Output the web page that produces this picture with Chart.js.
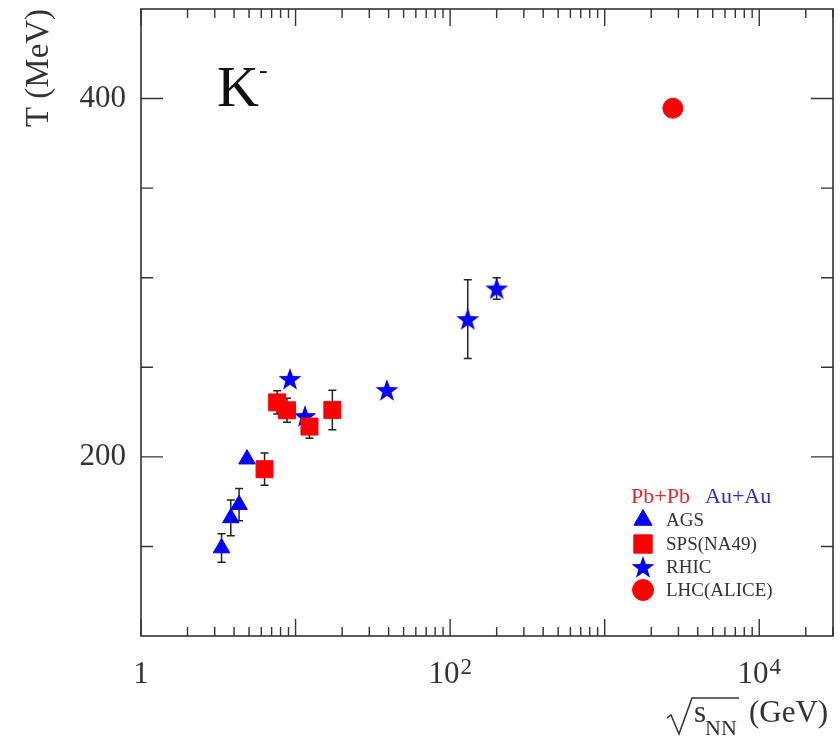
<!DOCTYPE html>
<html>
<head>
<meta charset="utf-8">
<script src="https://cdn.jsdelivr.net/npm/chart.js@4.4.0/dist/chart.umd.min.js"></script>
<style>
  html, body { margin: 0; padding: 0; background: #fff; }
  #wrap { width: 840px; height: 736px; position: relative; }
</style>
</head>
<body>
<div id="wrap"><canvas id="chart"></canvas></div>
<script>
// K- slope temperature vs collision energy
const agsEnergy = [3.32, 3.81, 4.31, 4.85];
const agsT = [149.1, 165.9, 173.3, 198.7];
const agsErr = [8, 10, 9, 0];

const spsEnergy = [6.3, 7.6, 8.8, 12.3, 17.3];
const spsT = [193.1, 230.4, 226.0, 216.9, 226.2];
const spsErr = [9, 6.5, 6.7, 6.5, 11];

const rhicEnergy = [9.2, 11.5, 39, 130, 200];
const rhicT = [243.5, 222.8, 237.3, 276.9, 294.0];
const rhicErr = [0, 0, 0, 22, 6];

const lhcEnergy = [2760];
const lhcT = [394.6];
const lhcErr = [0];

const xRange = [1, 30000];
const yRange = [100, 450];
const xLabels = [[1, '1', ''], [100, '10', '2'], [10000, '10', '4']];
const yLabels = [200, 400];
const yMinor = [150, 250, 300, 350];

const RED = '#ff0000';
const BLUE = '#0000ff';
const INK = '#333333';
const SERIF = '"Liberation Serif", "DejaVu Serif", serif';

function starImage(size, color) {
  const c = document.createElement('canvas');
  c.width = size; c.height = size;
  const g = c.getContext('2d');
  const R = size / 2, r = R * 0.4;
  g.beginPath();
  for (let i = 0; i < 10; i++) {
    const a = -Math.PI / 2 + i * Math.PI / 5;
    const rad = i % 2 ? r : R;
    g.lineTo(R + rad * Math.cos(a), R + 1 + rad * Math.sin(a));
  }
  g.closePath();
  g.fillStyle = color;
  g.fill();
  return c;
}
const star = starImage(24, BLUE);

function points(xs, ys) {
  return xs.map((x, i) => ({ x, y: ys[i] }));
}

const series = [
  { label: 'AGS', data: points(agsEnergy, agsT), errors: agsErr, pointStyle: 'triangle', pointRadius: 9.5, color: BLUE },
  { label: 'SPS(NA49)', data: points(spsEnergy, spsT), errors: spsErr, pointStyle: 'rect', pointRadius: 12, color: RED },
  { label: 'RHIC', data: points(rhicEnergy, rhicT), errors: rhicErr, pointStyle: star, pointRadius: 11, color: BLUE },
  { label: 'LHC(ALICE)', data: points(lhcEnergy, lhcT), errors: lhcErr, pointStyle: 'circle', pointRadius: 10, color: RED }
];

const errorBars = {
  id: 'errorBars',
  beforeDatasetsDraw(chart) {
    const { ctx, scales: { x, y } } = chart;
    ctx.save();
    ctx.strokeStyle = '#222';
    ctx.lineWidth = 1.5;
    chart.data.datasets.forEach(ds => {
      ds.data.forEach((p, i) => {
        const e = ds.errors[i];
        if (!e) return;
        const px = x.getPixelForValue(p.x);
        const top = y.getPixelForValue(p.y + e);
        const bot = y.getPixelForValue(p.y - e);
        ctx.beginPath();
        ctx.moveTo(px, top); ctx.lineTo(px, bot);
        ctx.moveTo(px - 4, top); ctx.lineTo(px + 4, top);
        ctx.moveTo(px - 4, bot); ctx.lineTo(px + 4, bot);
        ctx.stroke();
      });
    });
    ctx.restore();
  }
};

const frame = {
  id: 'frame',
  afterDraw(chart) {
    const { ctx, chartArea: a, scales: { x, y } } = chart;
    ctx.save();
    ctx.strokeStyle = INK;
    ctx.lineWidth = 1.6;
    ctx.strokeRect(a.left, a.top, a.right - a.left, a.bottom - a.top);

    ctx.lineWidth = 1.4;
    ctx.beginPath();
    // x ticks, bottom and top
    for (let d = 1; d <= 10000; d *= 10) {
      for (let m = 1; m <= 9; m++) {
        const v = d * m;
        if (v < xRange[0] || v > xRange[1]) continue;
        const px = x.getPixelForValue(v);
        const len = m === 1 ? 17 : 9;
        ctx.moveTo(px, a.bottom); ctx.lineTo(px, a.bottom - len);
        ctx.moveTo(px, a.top); ctx.lineTo(px, a.top + len);
      }
    }
    // y ticks, left and right
    yLabels.concat(yMinor).forEach(v => {
      const py = y.getPixelForValue(v);
      const len = yLabels.includes(v) ? 22 : 12;
      ctx.moveTo(a.left, py); ctx.lineTo(a.left + len, py);
      ctx.moveTo(a.right, py); ctx.lineTo(a.right - len, py);
    });
    ctx.stroke();

    // tick labels
    ctx.fillStyle = INK;
    ctx.font = '31px ' + SERIF;
    ctx.textAlign = 'right';
    ctx.textBaseline = 'middle';
    yLabels.forEach(v => ctx.fillText(String(v), 126, y.getPixelForValue(v)));

    ctx.textBaseline = 'alphabetic';
    ctx.textAlign = 'left';
    xLabels.forEach(([v, base, sup]) => {
      ctx.font = '31px ' + SERIF;
      const wb = ctx.measureText(base).width;
      ctx.font = '23px ' + SERIF;
      const ws = sup ? ctx.measureText(sup).width + 1 : 0;
      const left = x.getPixelForValue(v) - (wb + ws) / 2;
      ctx.font = '31px ' + SERIF;
      ctx.fillText(base, left, 683);
      if (sup) {
        ctx.font = '23px ' + SERIF;
        ctx.fillText(sup, left + wb + 1, 674);
      }
    });

    // y title
    ctx.save();
    ctx.translate(48, 68);
    ctx.rotate(-Math.PI / 2);
    ctx.font = '33px ' + SERIF;
    ctx.textAlign = 'center';
    ctx.fillText('T (MeV)', 0, 0);
    ctx.restore();

    // x title: sqrt(s_NN) (GeV)
    ctx.lineWidth = 1.5;
    ctx.beginPath();
    ctx.moveTo(667, 718); ctx.lineTo(671, 715); ctx.lineTo(679, 734);
    ctx.lineTo(692, 698); ctx.lineTo(739, 698);
    ctx.stroke();
    ctx.font = '31px ' + SERIF;
    ctx.fillText('s', 694, 722);
    ctx.font = '22px ' + SERIF;
    ctx.fillText('NN', 705, 735);
    ctx.font = '31px ' + SERIF;
    ctx.fillText('(GeV)', 749, 722);

    // particle label
    ctx.fillStyle = '#111';
    ctx.font = '58px ' + SERIF;
    ctx.fillText('K', 217, 106);
    ctx.font = '26px ' + SERIF;
    ctx.fillText('-', 259, 78);

    // legend
    ctx.font = '22px ' + SERIF;
    ctx.fillStyle = '#e8262a';
    ctx.fillText('Pb+Pb', 631, 503);
    ctx.fillStyle = '#2a2ad8';
    ctx.fillText('Au+Au', 705, 503);
    const rows = [520, 544, 567, 590];
    ctx.font = '19px ' + SERIF;
    chart.data.datasets.forEach((ds, i) => {
      ctx.fillStyle = ds.backgroundColor;
      ctx.strokeStyle = ds.borderColor;
      ctx.lineWidth = 1;
      Chart.helpers.drawPoint(ctx, {
        pointStyle: ds.pointStyle,
        radius: ds.pointStyle === 'rect' ? 13 : 10.5,
        rotation: 0,
        borderWidth: 1
      }, 643, rows[i]);
      ctx.fillStyle = INK;
      ctx.fillText(ds.label, 666, rows[i] + 6);
    });
    ctx.restore();
  }
};

new Chart(document.getElementById('chart'), {
  type: 'scatter',
  data: {
    datasets: series.map(s => ({
      label: s.label,
      data: s.data,
      errors: s.errors,
      pointStyle: s.pointStyle,
      pointRadius: s.pointRadius,
      pointHoverRadius: s.pointRadius,
      backgroundColor: s.color,
      borderColor: s.color,
      borderWidth: 1,
      showLine: false
    }))
  },
  options: {
    responsive: true,
    maintainAspectRatio: false,
    animation: false,
    layout: { autoPadding: false, padding: { left: 141, right: 7, top: 9, bottom: 100 } },
    plugins: { legend: { display: false }, tooltip: { enabled: false } },
    scales: {
      x: { type: 'logarithmic', min: xRange[0], max: xRange[1], display: false },
      y: { type: 'linear', min: yRange[0], max: yRange[1], display: false }
    }
  },
  plugins: [errorBars, frame]
});
</script>
</body>
</html>
